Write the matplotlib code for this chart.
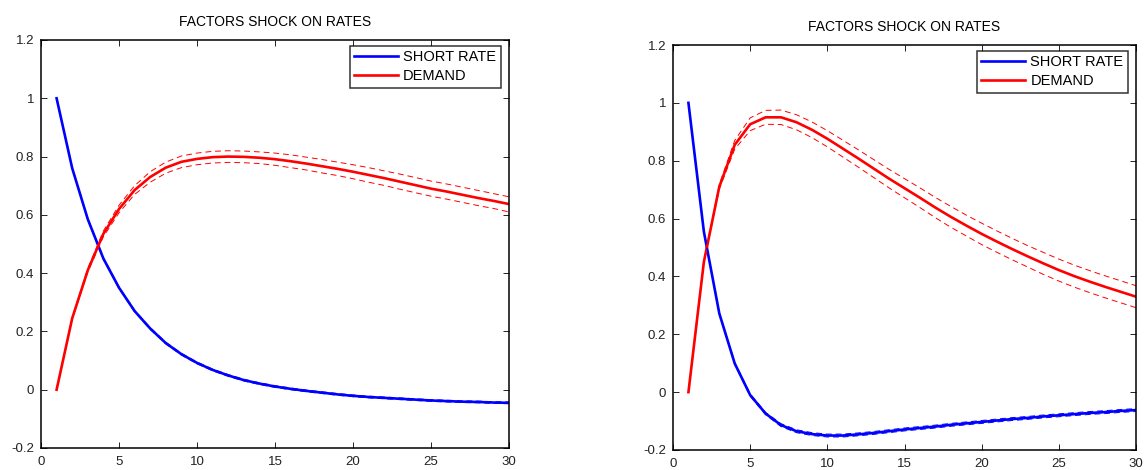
import matplotlib.pyplot as plt

plt.rcParams['font.family'] = ['Liberation Sans', 'DejaVu Sans']

horizon = list(range(1, 31))

# left panel
short_left = [1.0, 0.76, 0.585, 0.45, 0.35, 0.27, 0.21, 0.16, 0.122, 0.092,
              0.068, 0.049, 0.033, 0.021, 0.011, 0.003, -0.004, -0.010, -0.016, -0.021,
              -0.025, -0.028, -0.031, -0.034, -0.037, -0.039, -0.041, -0.042, -0.044, -0.045]
short_left_hi = [1.0, 0.761, 0.587, 0.453, 0.353, 0.273, 0.213, 0.163, 0.125, 0.095,
                 0.071, 0.052, 0.036, 0.024, 0.014, 0.006, -0.001, -0.007, -0.013, -0.018,
                 -0.022, -0.025, -0.028, -0.031, -0.034, -0.036, -0.038, -0.039, -0.041, -0.042]
short_left_lo = [1.0, 0.759, 0.583, 0.447, 0.347, 0.267, 0.207, 0.157, 0.119, 0.089,
                 0.065, 0.046, 0.030, 0.018, 0.008, 0.000, -0.007, -0.013, -0.019, -0.024,
                 -0.028, -0.031, -0.034, -0.037, -0.040, -0.042, -0.044, -0.045, -0.047, -0.048]
demand_left = [0.0, 0.245, 0.41, 0.535, 0.62, 0.685, 0.73, 0.762, 0.782, 0.792,
               0.798, 0.800, 0.799, 0.796, 0.791, 0.784, 0.776, 0.767, 0.758, 0.748,
               0.737, 0.726, 0.714, 0.702, 0.690, 0.680, 0.669, 0.658, 0.648, 0.637]
demand_left_hi = [0.0, 0.248, 0.416, 0.545, 0.633, 0.700, 0.748, 0.781, 0.802, 0.812,
                  0.818, 0.820, 0.819, 0.816, 0.812, 0.806, 0.798, 0.790, 0.781, 0.772,
                  0.762, 0.751, 0.740, 0.728, 0.716, 0.706, 0.695, 0.684, 0.673, 0.662]
demand_left_lo = [0.0, 0.242, 0.404, 0.525, 0.607, 0.670, 0.712, 0.743, 0.762, 0.772,
                  0.778, 0.780, 0.779, 0.776, 0.770, 0.762, 0.754, 0.744, 0.735, 0.724,
                  0.712, 0.701, 0.688, 0.676, 0.664, 0.654, 0.643, 0.632, 0.622, 0.610]

# right panel
short_right = [1.0, 0.555, 0.272, 0.099, -0.010, -0.074, -0.114, -0.135, -0.145, -0.150,
               -0.150, -0.146, -0.141, -0.135, -0.129, -0.124, -0.119, -0.113, -0.108, -0.103,
               -0.098, -0.093, -0.089, -0.084, -0.080, -0.076, -0.072, -0.069, -0.065, -0.062]
short_right_hi = [1.0, 0.556, 0.274, 0.102, -0.006, -0.070, -0.109, -0.130, -0.140, -0.145,
                  -0.145, -0.141, -0.136, -0.130, -0.124, -0.119, -0.114, -0.108, -0.103, -0.098,
                  -0.093, -0.088, -0.084, -0.079, -0.075, -0.071, -0.067, -0.064, -0.060, -0.057]
short_right_lo = [1.0, 0.554, 0.270, 0.096, -0.014, -0.078, -0.119, -0.140, -0.150, -0.155,
                  -0.155, -0.151, -0.146, -0.140, -0.134, -0.129, -0.124, -0.118, -0.113, -0.108,
                  -0.103, -0.098, -0.094, -0.089, -0.085, -0.081, -0.077, -0.074, -0.070, -0.067]
demand_right = [0.0, 0.45, 0.71, 0.855, 0.926, 0.950, 0.950, 0.933, 0.907, 0.876,
                0.842, 0.808, 0.773, 0.738, 0.705, 0.672, 0.638, 0.606, 0.576, 0.547,
                0.520, 0.494, 0.469, 0.445, 0.422, 0.401, 0.382, 0.364, 0.347, 0.330]
demand_right_hi = [0.0, 0.453, 0.718, 0.870, 0.948, 0.974, 0.975, 0.959, 0.934, 0.904,
                   0.871, 0.838, 0.804, 0.770, 0.738, 0.706, 0.673, 0.642, 0.612, 0.584,
                   0.557, 0.531, 0.506, 0.483, 0.460, 0.439, 0.420, 0.402, 0.385, 0.368]
demand_right_lo = [0.0, 0.447, 0.702, 0.840, 0.904, 0.926, 0.925, 0.907, 0.880, 0.848,
                   0.813, 0.778, 0.742, 0.706, 0.672, 0.638, 0.603, 0.570, 0.540, 0.510,
                   0.483, 0.457, 0.432, 0.407, 0.384, 0.363, 0.344, 0.326, 0.309, 0.292]

title = 'FACTORS SHOCK ON RATES'
xticks = [0, 5, 10, 15, 20, 25, 30]
yticks = [-0.2, 0, 0.2, 0.4, 0.6, 0.8, 1, 1.2]
ytick_labels = ['-0.2', '0', '0.2', '0.4', '0.6', '0.8', '1', '1.2']

fig = plt.figure(figsize=(11.45, 4.7), dpi=100)
ax1 = fig.add_axes([41/1145, 1 - 448/470, 468/1145, 408/470])
ax2 = fig.add_axes([673/1145, 1 - 450/470, 463/1145, 405/470])

panels = [
    (ax1, short_left, short_left_hi, short_left_lo, demand_left, demand_left_hi, demand_left_lo),
    (ax2, short_right, short_right_hi, short_right_lo, demand_right, demand_right_hi, demand_right_lo),
]

for ax, sr, sr_hi, sr_lo, dm, dm_hi, dm_lo in panels:
    ax.plot(horizon, sr, color='blue', lw=1.9, label='SHORT RATE')
    ax.plot(horizon, dm, color='red', lw=1.9, label='DEMAND')
    ax.plot(horizon, sr_hi, color='blue', lw=0.7, ls=(0, (6, 4)))
    ax.plot(horizon, sr_lo, color='blue', lw=0.7, ls=(0, (6, 4)))
    ax.plot(horizon, dm_hi, color='red', lw=0.7, ls=(0, (6, 4)))
    ax.plot(horizon, dm_lo, color='red', lw=0.7, ls=(0, (6, 4)))

    ax.set_xlim(0, 30)
    ax.set_ylim(-0.2, 1.2)
    ax.set_xticks(xticks)
    ax.set_yticks(yticks)
    ax.set_yticklabels(ytick_labels)
    ax.tick_params(direction='in', top=True, right=True, labelsize=9.5,
                   length=4, width=0.7, colors='#222222')
    ax.tick_params(axis='x', pad=6)
    ax.tick_params(axis='y', pad=5)
    for s in ax.spines.values():
        s.set_linewidth(1.1)
    ax.set_title(title, fontsize=10, pad=10)

    leg = ax.legend(loc='upper right', bbox_to_anchor=(0.982, 0.986), borderaxespad=0,
                    fontsize=10.5, frameon=True, fancybox=False, handlelength=3.0,
                    handletextpad=0.35, borderpad=0.3, labelspacing=0.35)
    leg.get_frame().set_edgecolor('black')
    leg.get_frame().set_linewidth(1.1)

fig.savefig('out.png', dpi=100)
